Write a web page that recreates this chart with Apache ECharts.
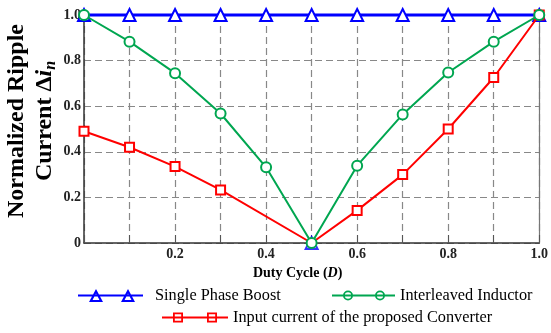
<!DOCTYPE html>
<html>
<head>
<meta charset="utf-8">
<style>
  html, body { margin: 0; padding: 0; background: #fff; }
  #chart { width: 551px; height: 333px; }
</style>
<script src="https://cdn.jsdelivr.net/npm/echarts@6/dist/echarts.min.js"></script>
</head>
<body>
<div id="chart"></div>
<script>
// Duty cycle samples (x axis)
const dutyCycle = [0, 0.1, 0.2, 0.3, 0.4, 0.5, 0.6, 0.7, 0.8, 0.9, 1.0];
// Normalized ripple of each topology at those duty cycles
const boostRipple = [1, 1, 1, 1, 1, 1, 1, 1, 1, 1, 1];
const interleavedRipple = [1, 0.883, 0.745, 0.568, 0.332, 0, 0.339, 0.564, 0.748, 0.883, 1];
const proposedRipple = [0.49, 0.42, 0.335, 0.233, null, 0, 0.143, 0.30, 0.50, 0.726, 1];
// Extra boost marker drawn at the zero-ripple point
const boostMarkDuty = [0.5];
const boostMarkValue = [0];

const yTicks = ['0', '0.2', '0.4', '0.6', '0.8', '1.0'];

const SERIF = '"Liberation Serif", "Times New Roman", serif';
const BLUE = '#0000ff', GREEN = '#00a650', RED = '#ff0000';

// Legend icon paths: a 2px line with two hollow markers on it
function rect(x0, y0, x1, y1) {
  return `M${x0} ${y0}L${x1} ${y0}L${x1} ${y1}L${x0} ${y1}Z`;
}
function triIcon(w, h, centers) {
  let p = rect(0, h * 0.5 - 1, w, h * 0.5 + 1);
  centers.forEach(c => {
    p += `M${c} 0L${c + 7} ${h}L${c - 7} ${h}Z`;
    p += `M${c} 4.4L${c - 3.5} ${h - 2}L${c + 3.5} ${h - 2}Z`;
  });
  return 'path://' + p;
}
function circIcon(w, h, centers) {
  const r = h / 2, ri = r - 1.8, cy = h / 2;
  let p = rect(0, cy - 1, w, cy + 1);
  centers.forEach(c => {
    p += `M${c - r} ${cy}A${r} ${r} 0 1 1 ${c + r} ${cy}A${r} ${r} 0 1 1 ${c - r} ${cy}Z`;
    p += `M${c - ri} ${cy}A${ri} ${ri} 0 1 0 ${c + ri} ${cy}A${ri} ${ri} 0 1 0 ${c - ri} ${cy}Z`;
  });
  return 'path://' + p;
}
function sqIcon(w, h, centers) {
  const s = h / 2, si = s - 1.8, cy = h / 2;
  let p = rect(0, cy - 1, w, cy + 1);
  centers.forEach(c => {
    p += `M${c - s} 0L${c + s} 0L${c + s} ${h}L${c - s} ${h}Z`;
    p += `M${c - si} ${cy - si}L${c - si} ${cy + si}L${c + si} ${cy + si}L${c + si} ${cy - si}Z`;
  });
  return 'path://' + p;
}

const pairs = (ys) => dutyCycle.map((x, i) => [x, ys[i]]);

const legendText = { fontFamily: SERIF, fontSize: 16.3, color: '#000', lineHeight: 17 };

const chart = echarts.init(document.getElementById('chart'), null, { renderer: 'canvas' });

chart.setOption({
  animation: false,
  backgroundColor: '#fff',
  grid: { left: 84, right: 7, top: 15, bottom: 90, containLabel: false },
  xAxis: {
    type: 'value',
    min: 0, max: 1, interval: 0.1,
    name: 'Duty Cycle ({i|D})',
    nameLocation: 'middle',
    nameGap: 18,
    nameTextStyle: {
      fontFamily: SERIF, fontWeight: 'bold', fontSize: 14, color: '#000',
      padding: [0, 28, 0, 0],
      rich: { i: { fontFamily: SERIF, fontWeight: 'bold', fontStyle: 'italic', fontSize: 14, color: '#000' } }
    },
    axisLine: { lineStyle: { color: '#333', width: 1.5 } },
    axisTick: { inside: true, length: 8, lineStyle: { color: '#555', width: 1 } },
    axisLabel: {
      margin: 4,
      fontFamily: SERIF, fontWeight: 'bold', fontSize: 14, color: '#222',
      formatter: (v) => {
        const k = Math.round(v * 10);
        return (k > 0 && k % 2 === 0) ? (k / 10).toFixed(1) : '';
      }
    },
    splitLine: { show: true, lineStyle: { color: '#888', type: [7, 4], width: 1.2 } }
  },
  yAxis: [{
    type: 'value',
    min: 0, max: 1, interval: 0.2,
    axisLine: { show: true, lineStyle: { color: '#333', width: 1.5 } },
    axisTick: { show: false },
    axisLabel: {
      margin: 3,
      fontFamily: SERIF, fontWeight: 'bold', fontSize: 14, color: '#222',
      formatter: (v) => yTicks[Math.round(v * 5)]
    },
    splitLine: { show: true, lineStyle: { color: '#888', type: [7, 4], width: 1.2 } }
  }, {
    type: 'value',
    position: 'right',
    min: 0, max: 1,
    axisLine: { show: true, lineStyle: { color: '#777', width: 1.2 } },
    axisTick: { show: false },
    axisLabel: { show: false },
    splitLine: { show: false }
  }],
  legend: [{
    left: 78, top: 287, padding: 0,
    itemWidth: 65, itemHeight: 13,
    textStyle: Object.assign({ padding: [0, 0, 0, 7] }, legendText),
    data: [{ name: 'Single Phase Boost', icon: triIcon(65, 13, [18, 50]),
             itemStyle: { color: BLUE, borderWidth: 0 } }]
  }, {
    left: 332, top: 287, padding: 0,
    itemWidth: 63, itemHeight: 10,
    textStyle: legendText,
    data: [{ name: 'Interleaved Inductor', icon: circIcon(63, 10, [16, 48]),
             itemStyle: { color: GREEN, borderWidth: 0 } }]
  }, {
    left: 162, top: 309, padding: 0,
    itemWidth: 66, itemHeight: 10,
    textStyle: legendText,
    data: [{ name: 'Input current of the proposed Converter', icon: sqIcon(66, 10, [16, 50]),
             itemStyle: { color: RED, borderWidth: 0 } }]
  }],
  graphic: [{
    type: 'text',
    x: 31, y: 121,
    rotation: Math.PI / 2,
    style: {
      text: 'Normalized Ripple\nCurrent Δ{i|i}{n|n}',
      font: 'bold 24px ' + SERIF,
      fill: '#000',
      align: 'center',
      verticalAlign: 'middle',
      lineHeight: 28,
      rich: {
        i: { fontFamily: SERIF, fontWeight: 'bold', fontStyle: 'italic', fontSize: 24, lineHeight: 28, fill: '#000' },
        n: { fontFamily: SERIF, fontWeight: 'bold', fontStyle: 'italic', fontSize: 16, lineHeight: 28, verticalAlign: 'bottom', padding: [6, 0, 0, 0], fill: '#000' }
      }
    }
  }],
  series: [{
    name: 'Single Phase Boost',
    type: 'line',
    data: pairs(boostRipple),
    symbol: 'emptyTriangle',
    symbolSize: 12,
    clip: false,
    lineStyle: { color: BLUE, width: 3 },
    itemStyle: { color: BLUE, borderWidth: 2 },
    z: 2
  }, {
    name: 'Single Phase Boost',
    type: 'scatter',
    data: boostMarkDuty.map((x, i) => [x, boostMarkValue[i]]),
    symbol: 'emptyTriangle',
    symbolSize: 12,
    clip: false,
    itemStyle: { color: BLUE, borderWidth: 2 },
    z: 3
  }, {
    name: 'Input current of the proposed Converter',
    type: 'line',
    data: dutyCycle.map((x, i) => proposedRipple[i] === 0
      ? { value: [x, 0], symbol: 'none' }
      : [x, proposedRipple[i]]),
    connectNulls: true,
    symbol: 'emptyRect',
    symbolSize: 9,
    clip: false,
    lineStyle: { color: RED, width: 2 },
    itemStyle: { color: RED, borderWidth: 2 },
    z: 4
  }, {
    name: 'Interleaved Inductor',
    type: 'line',
    data: pairs(interleavedRipple),
    symbol: 'emptyCircle',
    symbolSize: 10,
    clip: false,
    lineStyle: { color: GREEN, width: 2 },
    itemStyle: { color: GREEN, borderWidth: 2 },
    z: 5
  }]
});
</script>
</body>
</html>
